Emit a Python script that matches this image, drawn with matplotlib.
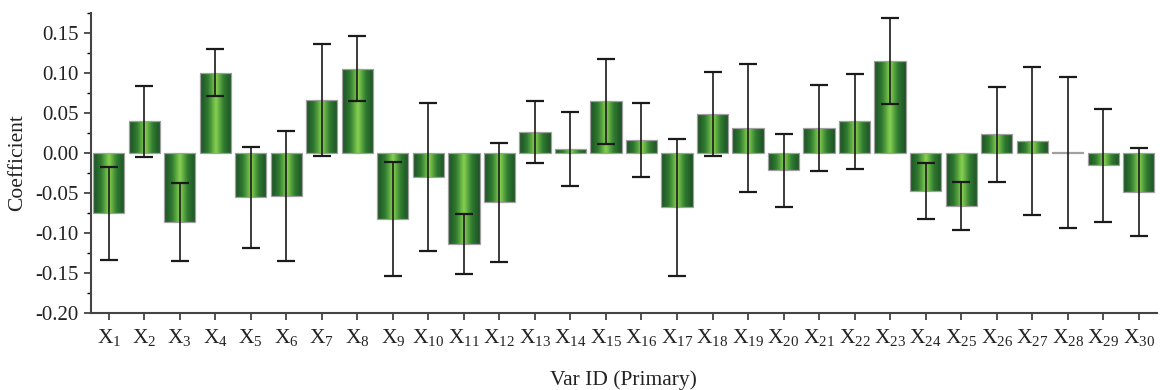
import matplotlib
matplotlib.use("Agg")
import matplotlib.pyplot as plt
import numpy as np
from matplotlib.colors import LinearSegmentedColormap
from matplotlib.ticker import MultipleLocator, FuncFormatter

plt.rcParams["font.family"] = ["Liberation Serif", "DejaVu Serif"]
plt.rcParams["mathtext.fontset"] = "custom"
plt.rcParams["mathtext.rm"] = "Liberation Serif"
plt.rcParams["mathtext.it"] = "Liberation Serif"

varIds = np.arange(1, 31)
tickLabels = [f"X$_{{{i}}}$" for i in varIds]
coef = [-0.0758, 0.0392, -0.0862, 0.1000, -0.0558, -0.0542, 0.0663, 0.1050,
        -0.0829, -0.0304, -0.1140, -0.0620, 0.0258, 0.0050, 0.0642, 0.0158,
        -0.0683, 0.0488, 0.0304, -0.0221, 0.0308, 0.0392, 0.1146, -0.0479,
        -0.0670, 0.0233, 0.0146, 0.0005, -0.0158, -0.0490]
errHalf = [0.0577, 0.0444, 0.0490, 0.0296, 0.0630, 0.0815, 0.0698, 0.0406,
           0.0708, 0.0930, 0.0377, 0.0746, 0.0388, 0.0460, 0.0530, 0.0460,
           0.0856, 0.0523, 0.0800, 0.0460, 0.0533, 0.0596, 0.0540, 0.0352,
           0.0300, 0.0594, 0.0930, 0.0940, 0.0708, 0.0550]

greenCmap = LinearSegmentedColormap.from_list(
    "barGreen", ["#1d4f26", "#2f7a30", "#86d150", "#2f7a30", "#1d4f26"])

fig = plt.figure(figsize=(11.6, 3.9), dpi=100)
ax = fig.add_axes([0.0784, 0.198, 0.9186, 0.7694])

bars = ax.bar(varIds, coef, width=0.88, color="none", edgecolor="#a0a0a0",
              linewidth=0.9, zorder=2)

grad = np.linspace(0, 1, 256).reshape(1, -1)
for b in bars: #Gradient fill clipped to each bar
    x0, y0 = b.get_x(), b.get_y()
    w, h = b.get_width(), b.get_height()
    im = ax.imshow(grad, cmap=greenCmap, aspect="auto", zorder=1,
                   extent=[x0, x0 + w, min(y0, y0 + h), max(y0, y0 + h) + 1e-4])
    im.set_clip_path(b)

ax.errorbar(varIds, coef, yerr=errHalf, fmt="none", ecolor="#1a1a1a",
            elinewidth=1.2, capsize=6.5, capthick=1.6, zorder=3)

ax.set_xlim(0.5, 30.5)
ax.set_ylim(-0.20, 0.175)
ax.set_xticks(varIds)
ax.set_xticklabels(tickLabels, fontsize=15.5)
ax.yaxis.set_major_locator(MultipleLocator(0.05))
ax.yaxis.set_minor_locator(MultipleLocator(0.025))
ax.yaxis.set_major_formatter(FuncFormatter(lambda v, _: f"{v:.2f}".replace("\u2212", "-")))
ax.tick_params(axis="y", labelsize=15, direction="out", length=5, width=1.2, colors="#333333", pad=4)
ax.tick_params(axis="y", which="minor", length=3, width=1.0)
ax.tick_params(axis="x", direction="out", length=5, width=1.2, pad=5, colors="#333333")
for lbl in ax.get_xticklabels() + ax.get_yticklabels():
    lbl.set_color("#222222")

for s in ["top", "right"]:
    ax.spines[s].set_visible(False)
for s in ["left", "bottom"]:
    ax.spines[s].set_color("#444444")
    ax.spines[s].set_linewidth(1.5)

ax.set_xlabel("Var ID (Primary)", fontsize=15.5, labelpad=16, color="#222222")
ax.set_ylabel("Coefficient", fontsize=15.5, labelpad=6, color="#222222")

fig.savefig("out.png", dpi=100)
